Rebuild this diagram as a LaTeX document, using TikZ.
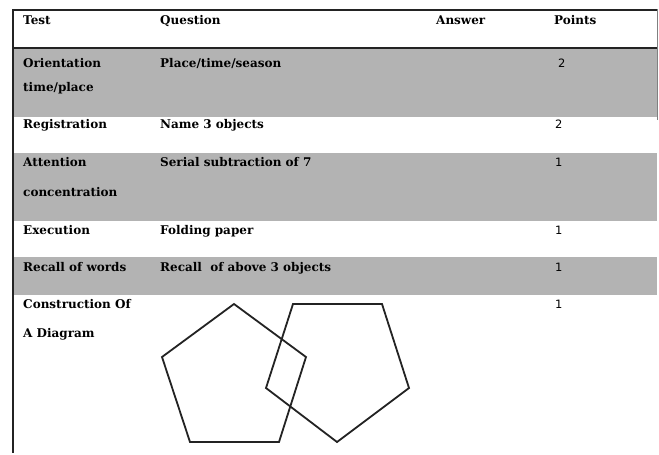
\documentclass[tikz,border=0pt]{standalone}
\usepackage{fontspec}
\setmainfont{DejaVu Serif}
\newfontfamily\digitfont{DejaVu Sans}
\definecolor{rowgray}{RGB}{179,179,179}
\definecolor{linedark}{RGB}{35,35,35}
\begin{document}
\begin{tikzpicture}[x=1pt,y=-1pt,
  cell/.style={anchor=base west,inner sep=0pt,font=\bfseries\fontsize{12}{14}\selectfont},
  num/.style={anchor=base west,inner sep=0pt,font=\digitfont\fontsize{11.5}{14}\selectfont},
  pentline/.style={draw=linedark,line width=1.8pt,line join=miter}]
\useasboundingbox (0,0) rectangle (659,455);
\fill[white] (0,0) rectangle (659,455);
% gray rows
\fill[rowgray] (13,49) rectangle (657,117);
\fill[rowgray] (13,153) rectangle (657,221);
\fill[rowgray] (13,257) rectangle (657,295);
% borders
\draw[linedark,line width=2.2pt] (12,10) -- (657,10);
\draw[linedark,line width=2.2pt] (12,48) -- (657,48);
\draw[linedark,line width=1.6pt] (13,9) -- (13,453);
\draw[gray,line width=1pt] (657,9) -- (657,120);
% header
\node[cell] (hTest) at (23,24) {Test};
\node[cell] (hQ) at (160,24) {Question};
\node[cell] (hA) at (436,24) {Answer};
\node[cell] (hP) at (554,24) {Points};
% row 1
\node[cell] (t1a) at (23,67) {Orientation};
\node[cell] (t1b) at (23,91) {time/place};
\node[cell] (q1) at (160,67) {Place/time/season};
\node[num] (p1) at (558,67) {2};
% row 2
\node[cell] (t2) at (23,128) {Registration};
\node[cell] (q2) at (160,128) {Name 3 objects};
\node[num] (p2) at (555,128) {2};
% row 3
\node[cell] (t3a) at (23,166) {Attention};
\node[cell] (t3b) at (23,196) {concentration};
\node[cell] (q3) at (160,166) {Serial subtraction of 7};
\node[num] (p3) at (555,166) {1};
% row 4
\node[cell] (t4) at (23,234) {Execution};
\node[cell] (q4) at (160,234) {Folding paper};
\node[num] (p4) at (555,234) {1};
% row 5
\node[cell] (t5) at (23,271) {Recall of words};
\node[cell] (q5) at (160,271) {Recall\ \ of above 3 objects};
\node[num] (p5) at (555,271) {1};
% row 6
\node[cell] (t6a) at (23,308) {Construction Of};
\node[cell] (t6b) at (23,337) {A Diagram};
\node[num] (p6) at (555,308) {1};
% pentagons
\draw[pentline] (234,304) -- (306,357) -- (279,442) -- (190,442) -- (162,357) -- cycle;
\draw[pentline] (293,304) -- (382,304) -- (409,388) -- (337,442) -- (266,388) -- cycle;
\end{tikzpicture}
\end{document}
